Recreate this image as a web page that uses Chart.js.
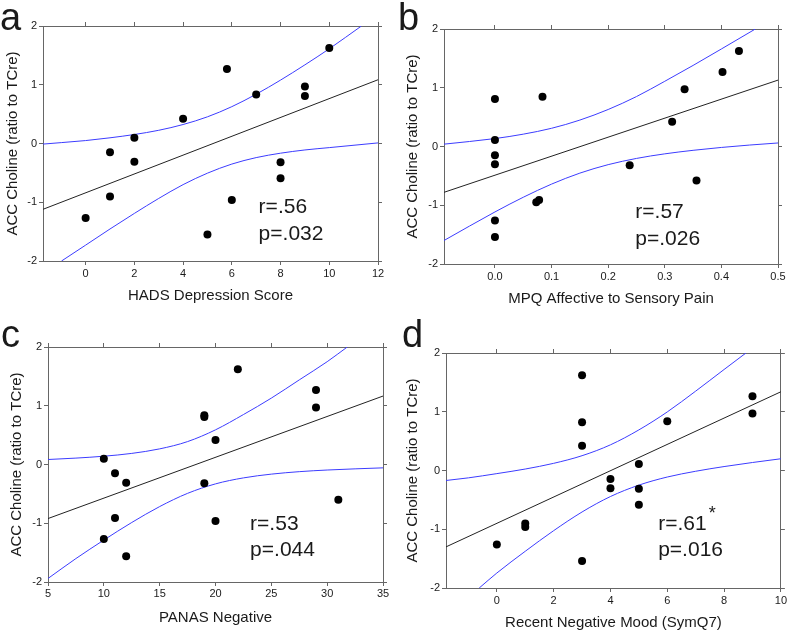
<!DOCTYPE html>
<html>
<head>
<meta charset="utf-8">
<title>ACC Choline correlations</title>
<script src="https://cdn.jsdelivr.net/npm/chart.js@4.4.1/dist/chart.umd.min.js"></script>
<style>
  body { margin: 0; background: #fff; }
  .panel { position: absolute; }
  .panel canvas { display: block; }
</style>
</head>
<body>
<div class="panel" style="left:0;top:0"><canvas id="panelA" width="395" height="315"></canvas></div>
<div class="panel" style="left:395px;top:0"><canvas id="panelB" width="394" height="315"></canvas></div>
<div class="panel" style="left:0;top:315px"><canvas id="panelC" width="395" height="318"></canvas></div>
<div class="panel" style="left:395px;top:315px"><canvas id="panelD" width="394" height="318"></canvas></div>
<script>
// shared y axis
const yTicks = [-2, -1, 0, 1, 2];
const yTitle = 'ACC Choline (ratio to TCre)';

// a - HADS depression
const hadsScore = [0, 1, 1, 2, 2, 4, 5, 5.8, 6, 7, 8, 8, 9, 9, 10];
const cholineA = [-1.27, -0.15, -0.90, 0.10, -0.31, 0.42, -1.55, 1.27, -0.96, 0.835, -0.32, -0.59, 0.97, 0.81, 1.625];
const fitAX = [-1.75, 12];
const fitAY = [-1.12, 1.085];
const upperAX = [-1.75, -1, 0, 1, 2, 3, 4, 5, 6, 7, 8, 9, 10, 11.32];
const upperAY = [-0.01, 0.015, 0.05, 0.097, 0.153, 0.225, 0.323, 0.454, 0.627, 0.839, 1.079, 1.339, 1.612, 2.0];
const lowerAX = [-0.99, 0, 1, 2, 3, 4, 5, 6, 7, 8, 9, 10, 12];
const lowerAY = [-2.0, -1.73, -1.455, -1.19, -0.935, -0.70, -0.505, -0.35, -0.24, -0.165, -0.11, -0.07, 0.01];
const xTicksA = [0, 2, 4, 6, 8, 10, 12];

// b - MPQ affective/sensory
const mpqRatio = [0, 0, 0, 0, 0, 0, 0.084, 0.073, 0.078, 0.238, 0.313, 0.335, 0.356, 0.402, 0.431];
const cholineB = [0.81, 0.11, -0.15, -0.30, -1.26, -1.54, 0.845, -0.95, -0.91, -0.32, 0.42, 0.975, -0.58, 1.27, 1.625];
const fitBX = [-0.09, 0.5];
const fitBY = [-0.78, 1.13];
const upperBX = [-0.09, 0, 0.05, 0.1, 0.15, 0.2, 0.25, 0.3, 0.35, 0.4, 0.46];
const upperBY = [0.04, 0.135, 0.21, 0.31, 0.45, 0.63, 0.85, 1.11, 1.38, 1.66, 2.0];
const lowerBX = [-0.09, 0, 0.05, 0.1, 0.15, 0.2, 0.25, 0.3, 0.35, 0.4, 0.45, 0.5];
const lowerBY = [-1.6, -1.114, -0.864, -0.64, -0.453, -0.309, -0.203, -0.125, -0.065, -0.016, 0.025, 0.06];
const xTicksB = [0, 0.1, 0.2, 0.3, 0.4, 0.5];

// c - PANAS negative
const panasNeg = [10, 10, 11, 11, 12, 12, 19, 19, 19, 20, 20, 22, 29, 29, 31];
const cholineC = [0.10, -1.27, -0.15, -0.91, -0.31, -1.56, 0.84, 0.81, -0.32, 0.415, -0.96, 1.62, 1.27, 0.97, -0.60];
const fitCX = [5, 35];
const fitCY = [-0.92, 1.165];
const upperCX = [5, 7.5, 10, 12.5, 15, 17.5, 20, 22.5, 25, 27.5, 30, 31.8];
const upperCY = [0.085, 0.109, 0.141, 0.189, 0.266, 0.39, 0.59, 0.85, 1.13, 1.44, 1.75, 2.0];
const lowerCX = [5, 7.5, 10, 12.5, 15, 17.5, 20, 22.5, 25, 27.5, 30, 32.5, 35];
const lowerCY = [-1.94, -1.601, -1.286, -0.987, -0.716, -0.491, -0.33, -0.228, -0.164, -0.122, -0.094, -0.074, -0.057];
const xTicksC = [5, 10, 15, 20, 25, 30, 35];

// d - recent negative mood
const symq7 = [0, 1, 1, 3, 3, 3, 3, 4, 4, 5, 5, 5, 6, 9, 9];
const cholineD = [-1.26, -0.90, -0.96, 1.62, 0.82, 0.42, -1.54, -0.145, -0.30, 0.11, -0.31, -0.585, 0.84, 1.265, 0.97];
const fitDX = [-1.79, 10];
const fitDY = [-1.30, 1.34];
const upperDX = [-1.79, -1, 0, 1, 2, 3, 4, 5, 6, 7, 8, 8.77];
const upperDY = [-0.17, -0.125, -0.053, 0.025, 0.122, 0.252, 0.437, 0.691, 0.997, 1.351, 1.719, 2.0];
const lowerDX = [-0.62, 0, 1, 2, 3, 4, 5, 6, 7, 8, 9, 10];
const lowerDY = [-2.0, -1.745, -1.375, -1.024, -0.706, -0.443, -0.249, -0.111, -0.013, 0.067, 0.136, 0.20];
const xTicksD = [0, 2, 4, 6, 8, 10];

Chart.defaults.font.family = '"Liberation Sans", Arial, sans-serif';
const FRAME = '#666';
const TEXT = '#1a1a1a';
const CI_BLUE = '#3c3cff';

function pts(xs, ys) {
    return xs.map((v, i) => ({ x: v, y: ys[i] }));
}

// letter + r/p text drawn on top of the plot
const panelText = {
    id: 'panelText',
    afterDraw(chart, args, o) {
        const { ctx } = chart;
        const sx = chart.scales.x, sy = chart.scales.y;
        ctx.save();
        ctx.fillStyle = TEXT;
        ctx.textAlign = 'left';
        ctx.textBaseline = 'alphabetic';
        ctx.font = '38px "Liberation Sans", Arial, sans-serif';
        ctx.fillText(o.letter, o.letterX, o.letterY);
        ctx.font = '21px "Liberation Sans", Arial, sans-serif';
        const px = sx.getPixelForValue(o.statX);
        const ry = sy.getPixelForValue(o.rY);
        ctx.fillText(o.r, px, ry);
        ctx.fillText(o.p, px, sy.getPixelForValue(o.pY));
        if (o.star) {
            const w = ctx.measureText(o.r).width;
            ctx.font = '18px "Liberation Sans", Arial, sans-serif';
            ctx.fillText('*', px + w + 2, ry - 11);
        }
        ctx.restore();
    }
};

function axis(pos, min, max, tickVals, size, extra) {
    const horiz = pos === 'top' || pos === 'bottom';
    return Object.assign({
        type: 'linear',
        position: pos,
        min: min,
        max: max,
        afterBuildTicks: s => { s.ticks = tickVals.map(v => ({ value: v })); },
        afterFit: s => { if (horiz) s.height = size; else s.width = size; },
        grid: { drawOnChartArea: false, tickLength: 4, color: FRAME },
        border: { color: FRAME, width: 1 },
        ticks: { display: false }
    }, extra || {});
}

function drawPanel(id, c) {
    new Chart(document.getElementById(id), {
        type: 'scatter',
        data: {
            datasets: [
                { data: pts(c.xs, c.ys), pointRadius: 4, pointBackgroundColor: '#000', pointBorderWidth: 0 },
                { data: pts(c.fitX, c.fitY), showLine: true, borderColor: '#222', borderWidth: 1, pointRadius: 0 },
                { data: pts(c.upX, c.upY), showLine: true, borderColor: CI_BLUE, borderWidth: 1, pointRadius: 0, cubicInterpolationMode: 'monotone' },
                { data: pts(c.loX, c.loY), showLine: true, borderColor: CI_BLUE, borderWidth: 1, pointRadius: 0, cubicInterpolationMode: 'monotone' }
            ]
        },
        options: {
            responsive: false,
            animation: false,
            devicePixelRatio: 1,
            layout: { padding: 0, autoPadding: false },
            scales: {
                x: axis('bottom', c.xMin, c.xMax, c.xTicks, c.bottomH, {
                    ticks: { display: true, color: TEXT, font: { size: 11 }, padding: c.tickPad, maxRotation: 0,
                             callback: c.fmt || (v => v) },
                    title: { display: true, text: c.xTitle, color: TEXT, font: { size: 15 }, padding: { top: 0, bottom: c.xTitlePad } }
                }),
                y: axis('left', -2, 2, yTicks, c.leftW, {
                    ticks: { display: true, color: TEXT, font: { size: 11 }, padding: 2 },
                    title: { display: true, text: yTitle, color: TEXT, font: { size: 15 }, padding: { top: c.yTitlePad, bottom: 0 } }
                }),
                xTop: axis('top', c.xMin, c.xMax, c.xTicks, c.topH),
                yRight: axis('right', -2, 2, yTicks, c.rightW)
            },
            plugins: {
                legend: { display: false },
                tooltip: { enabled: false },
                panelText: c.text
            }
        },
        plugins: [panelText]
    });
}

drawPanel('panelA', {
    xs: hadsScore, ys: cholineA, fitX: fitAX, fitY: fitAY,
    upX: upperAX, upY: upperAY, loX: lowerAX, loY: lowerAY,
    xMin: -1.75, xMax: 12, xTicks: xTicksA, xTitle: 'HADS Depression Score',
    leftW: 43, rightW: 17, topH: 26, bottomH: 54, tickPad: 2, xTitlePad: 10, yTitlePad: 4,
    text: { letter: 'a', letterX: 0, letterY: 30, r: 'r=.56', p: 'p=.032', statX: 7.1, rY: -1.18, pY: -1.64 }
});

drawPanel('panelB', {
    xs: mpqRatio, ys: cholineB, fitX: fitBX, fitY: fitBY,
    upX: upperBX, upY: upperBY, loX: lowerBX, loY: lowerBY,
    xMin: -0.09, xMax: 0.5, xTicks: xTicksB, xTitle: 'MPQ Affective to Sensory Pain',
    fmt: v => v.toFixed(1),
    leftW: 49, rightW: 11, topH: 29, bottomH: 51, tickPad: 2, xTitlePad: 7, yTitlePad: 9,
    text: { letter: 'b', letterX: 3, letterY: 30, r: 'r=.57', p: 'p=.026', statX: 0.248, rY: -1.22, pY: -1.68 }
});

drawPanel('panelC', {
    xs: panasNeg, ys: cholineC, fitX: fitCX, fitY: fitCY,
    upX: upperCX, upY: upperCY, loX: lowerCX, loY: lowerCY,
    xMin: 5, xMax: 35, xTicks: xTicksC, xTitle: 'PANAS Negative',
    leftW: 48, rightW: 12, topH: 32, bottomH: 51, tickPad: 1, xTitlePad: 6, yTitlePad: 8,
    text: { letter: 'c', letterX: 1, letterY: 32, r: 'r=.53', p: 'p=.044', statX: 23.1, rY: -1.11, pY: -1.56 }
});

drawPanel('panelD', {
    xs: symq7, ys: cholineD, fitX: fitDX, fitY: fitDY,
    upX: upperDX, upY: upperDY, loX: lowerDX, loY: lowerDY,
    xMin: -1.79, xMax: 10, xTicks: xTicksD, xTitle: 'Recent Negative Mood (SymQ7)',
    leftW: 51, rightW: 8, topH: 38, bottomH: 45, tickPad: 2, xTitlePad: 1, yTitlePad: 9,
    text: { letter: 'd', letterX: 7, letterY: 32, r: 'r=.61', p: 'p=.016', statX: 5.68, rY: -1.01, pY: -1.46, star: true }
});
</script>
</body>
</html>
